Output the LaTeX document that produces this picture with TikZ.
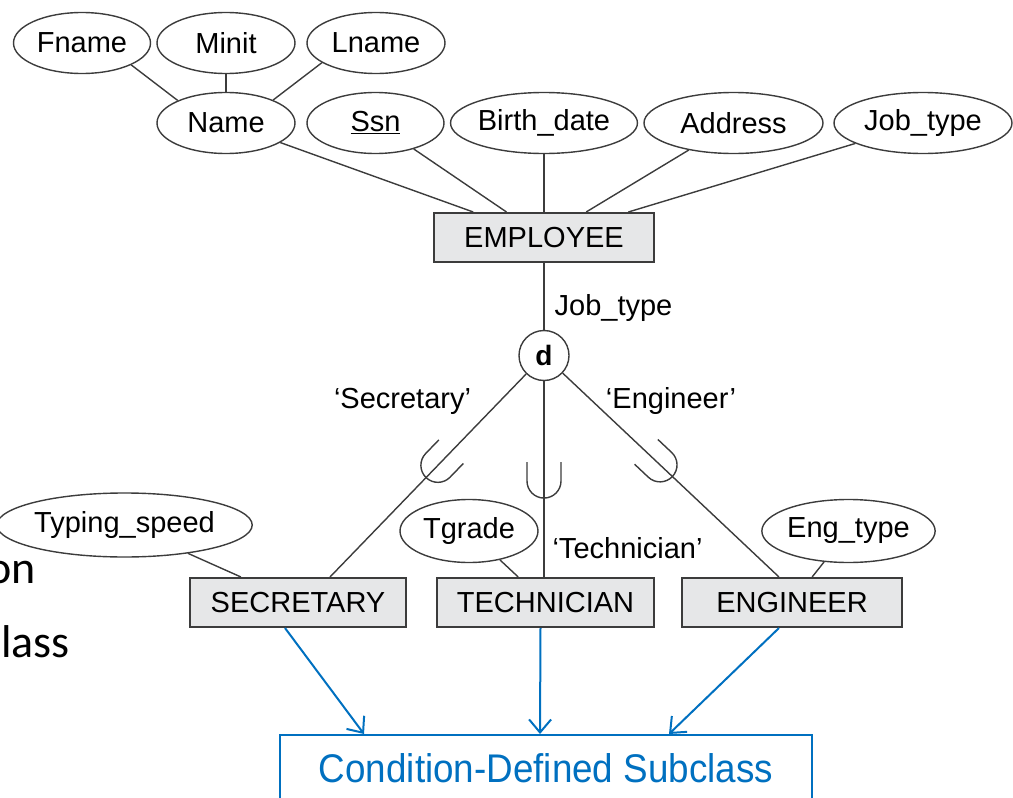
\documentclass[tikz,border=0pt]{standalone}
\usepackage{fontspec}
\setmainfont{Liberation Sans}
\newfontfamily\slidefont{Carlito}
\newfontfamily\narrowfont[FakeStretch=0.92]{Liberation Sans}
\usetikzlibrary{shapes.geometric,arrows.meta}
\definecolor{slideblue}{HTML}{0070C0}
\definecolor{entgray}{HTML}{E6E7E8}
\definecolor{erline}{HTML}{3C3C3C}

\begin{document}
\begin{tikzpicture}[x=1pt,y=1pt,
  font=\fontsize{29}{34}\selectfont,
  conn/.style={erline,line width=1.4pt},
  attr/.style={ellipse,draw=erline,line width=1.4pt,inner sep=0pt,minimum height=61pt},
  ent/.style={rectangle,draw=erline,fill=entgray,line width=2pt,inner sep=0pt,minimum height=49pt},
  disj/.style={circle,draw=erline,line width=1.4pt,inner sep=0pt,minimum size=50pt,font=\fontsize{28}{30}\selectfont\bfseries},
  lbl/.style={inner sep=0pt,anchor=base},
  arr/.style={slideblue,line width=2pt,-{Straight Barb[length=13pt,width=22pt]}},
  subsetu/.pic={\draw[conn] (-19,17) -- (0,17) arc (90:-90:17) -- (-19,-17);}
]
\useasboundingbox (0,0) rectangle (1013,-798);

% attributes of EMPLOYEE
\foreach \nm/\x/\y/\w/\txt in {fname/82/43/137/Fname, minit/226/43/138/Minit, lname/376/43/138/Lname, name/226/123/138/Name, ssn/375.5/123/137/{\underline{Ssn}}, bdate/544/123/178/Birth\_date, addr/733.5/123/179/Address, jtype/923/123/178/Job\_type}
  \node[attr,minimum width=\w pt] (\nm) at (\x,-\y) {\txt};
\node[ent,minimum width=220pt] (emp) at (544,-237.5) {EMPLOYEE};
\draw[conn] (fname.-24) -- (name.155);
\draw[conn] (minit) -- (name);
\draw[conn] (lname.-160) -- (name.26);
\foreach \a in {name,ssn,bdate,addr,jtype}
  \draw[conn] (\a) -- (emp);

% disjoint specialization on Job_type
\node[disj] (d) at (544,-355.5) {d};
\node[lbl] (jtlbl) at (613.5,-315) {Job\_type};
\draw[conn] (emp) -- (d);
\node[ent,minimum width=216pt] (sec) at (298,-602.5) {SECRETARY};
\node[ent,minimum width=217pt] (tech) at (545.5,-602.5) {TECHNICIAN};
\node[ent,minimum width=220pt] (eng) at (792,-602.5) {ENGINEER};
\draw[conn] (d) -- ([xshift=32pt]sec.north) pic[pos=.45,sloped,allow upside down] {subsetu};
\draw[conn] (d) -- (d |- tech.north) pic[pos=.51,sloped,allow upside down] {subsetu};
\draw[conn] (d) -- ([xshift=-13pt]eng.north) pic[pos=.45,sloped,allow upside down] {subsetu};
\node[lbl] (seclbl) at (402.5,-408) {`Secretary'};
\node[lbl] (englbl) at (671,-408) {`Engineer'};
\node[lbl] (techlbl) at (627.5,-558) {`Technician'};

% local attributes
\node[attr,minimum width=223pt,minimum height=64pt] (tspeed) at (124.5,-525) {Typing\_speed};
\node[attr,minimum width=138pt,minimum height=63pt] (tgrade) at (469,-531) {Tgrade};
\node[attr,minimum width=173pt,minimum height=63pt] (etype) at (848.5,-531) {Eng\_type};
\draw[conn] (tspeed) -- (sec);
\draw[conn] (tgrade) -- (tech);
\draw[conn] (etype) -- (eng);

% slide text cut at the left edge
\node[inner sep=0pt,anchor=base east,font=\slidefont\fontsize{46}{50}\selectfont] (frag1) at (36,-583) {on};
\node[inner sep=0pt,anchor=base east,font=\slidefont\fontsize{46}{50}\selectfont] (frag2) at (70,-657) {lass};

% condition-defined subclass
\node[draw=slideblue,line width=2pt,minimum width=532pt,minimum height=66pt,inner sep=0pt,text=slideblue,font=\narrowfont\fontsize{40}{44}\selectfont] (cond) at (546,-768) {Condition-Defined Subclass};
\draw[arr] ([xshift=-13pt]sec.south) -- ([xshift=-182pt]cond.north);
\draw[arr] ([xshift=-5pt]tech.south) -- ([xshift=-6pt]cond.north);
\draw[arr] ([xshift=-13pt]eng.south) -- ([xshift=123pt]cond.north);
\end{tikzpicture}
\end{document}
